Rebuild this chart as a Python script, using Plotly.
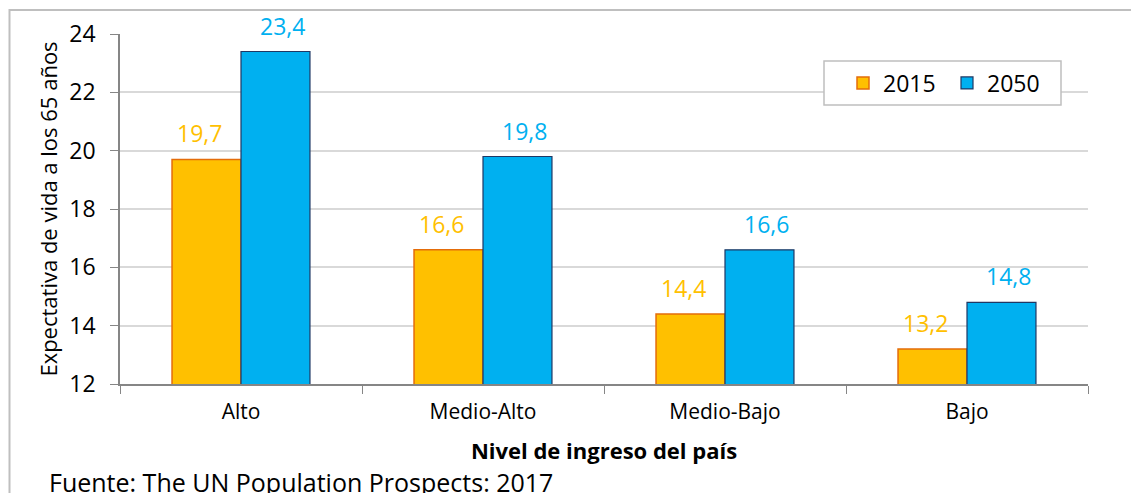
import plotly.graph_objects as go

categories = ["Alto", "Medio-Alto", "Medio-Bajo", "Bajo"]
vals_2015 = [19.7, 16.6, 14.4, 13.2]
vals_2050 = [23.4, 19.8, 16.6, 14.8]
series_names = ["2015", "2050"]

FONT = "'Open Sans', Lato, sans-serif"
c2015, c2015_line = "#FFC000", "#E46C0A"
c2050, c2050_line = "#00B0F0", "#1F3864"

fig = go.Figure()
fig.add_trace(go.Bar(x=categories, y=vals_2015, name=series_names[0],
                     marker=dict(color=c2015, line=dict(color=c2015_line, width=1.5))))
fig.add_trace(go.Bar(x=categories, y=vals_2050, name=series_names[1],
                     marker=dict(color=c2050, line=dict(color=c2050_line, width=1.2))))

annotations = []
for i, cat in enumerate(categories):
    for vals, col, off in ((vals_2015, c2015, -0.17), (vals_2050, c2050, 0.17)):
        annotations.append(dict(x=i + off, y=vals[i], xref="x", yref="y",
                                text=f"{vals[i]:.1f}".replace(".", ","),
                                showarrow=False, yanchor="bottom", yshift=8,
                                font=dict(family=FONT, size=23, color=col)))
annotations.append(dict(x=-73 / 968, y=-98 / 350, xref="paper", yref="paper", xanchor="left",
                        yanchor="middle", showarrow=False,
                        text="Fuente: The UN Population Prospects: 2017",
                        font=dict(family=FONT, size=25, color="#000000")))

fig.update_layout(
    width=1131, height=493,
    margin=dict(l=120, r=43, t=34, b=109, autoexpand=False),
    paper_bgcolor="white", plot_bgcolor="white",
    barmode="group", bargap=0.43, bargroupgap=0,
    font=dict(family=FONT, color="#000000"),
    annotations=annotations,
    showlegend=True,
    legend=dict(orientation="h", x=(843 - 120) / 968, y=(384 - 83) / 350,
                xanchor="left", yanchor="middle",
                bgcolor="rgba(0,0,0,0)", borderwidth=0,
                font=dict(family=FONT, size=23), entrywidth=59, entrywidthmode="pixels",
                traceorder="normal"),
    shapes=[dict(type="rect", xref="paper", yref="paper",
                 x0=-110.5 / 968, x1=1.2, y0=-0.5, y1=1 + 24 / 350,
                 line=dict(color="#BFBFBF", width=2), fillcolor="rgba(0,0,0,0)",
                 layer="below"),
            dict(type="rect", xref="paper", yref="paper",
                 x0=704 / 968, x1=941 / 968, y0=(384 - 105) / 350, y1=(384 - 61) / 350,
                 line=dict(color="#BFBFBF", width=1.5), fillcolor="white",
                 layer="above")],
    xaxis=dict(type="category", showline=True, linecolor="#868686", linewidth=1.5,
               ticks="outside", tickson="boundaries", ticklen=8, tickcolor="#868686",
               ticklabelstandoff=8,
               tickfont=dict(family=FONT, size=21),
               title=dict(text="<b>Nivel de ingreso del país</b>",
                          font=dict(family=FONT, size=22), standoff=20)),
    yaxis=dict(range=[12, 24], dtick=2, showline=True, linecolor="#868686", linewidth=1.5,
               ticks="outside", ticklen=8, tickcolor="#868686",
               ticklabelstandoff=10,
               showgrid=True, gridcolor="#D9D9D9", gridwidth=1.5,
               tickfont=dict(family=FONT, size=23),
               title=dict(text="Expectativa de vida a los 65 años",
                          font=dict(family=FONT, size=22), standoff=6)),
)

fig.write_html("out.html")
